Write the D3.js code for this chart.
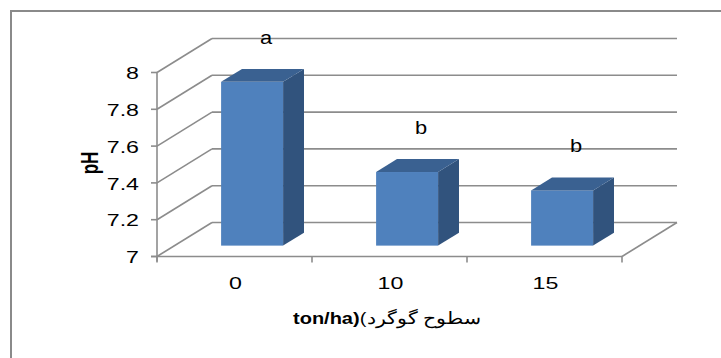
<!DOCTYPE html>
<html>
<head>
<meta charset="utf-8">
<script src="https://cdn.jsdelivr.net/npm/d3@7"></script>
<style>
  body { margin: 0; background: #fff; }
  text { font-family: "Liberation Sans", Arial, sans-serif; fill: #000; }
</style>
</head>
<body>
<div id="chart"></div>
<script>
// pH by sulfur level, 3D column chart

var categories = ["0", "10", "15"];
var phValues = [7.89, 7.4, 7.3];
var letters = ["a", "b", "b"];
var yTicks = [7, 7.2, 7.4, 7.6, 7.8, 8];

var W = 721, H = 358;
var depthX = 55, depthY = -34;   // floor depth of the 3D box
var f1 = 0.32, f2 = 0.70;        // front / back depth of the columns
var stretch = 1.45;              // text in the source is stretched horizontally

var svg = d3.select("#chart")
    .append("svg")
    .attr("width", W)
    .attr("height", H);

// outer frame (right and bottom edges run off the picture)
svg.append("rect")
    .attr("x", 11).attr("y", 11)
    .attr("width", W).attr("height", H)
    .style("fill", "none")
    .style("stroke", "#8a8a8a")
    .style("stroke-width", 2);

var x = d3.scaleBand()
    .domain(categories)
    .range([157, 622]);

var y = d3.scaleLinear()
    .domain([7, 8])
    .range([256.5, 72.5]);

var x0 = x.range()[0], x1 = x.range()[1];
var grid = svg.append("g")
    .style("stroke", "#8c8c8c")
    .style("stroke-width", 1.6)
    .style("fill", "none");

// back wall gridlines
grid.selectAll(".back")
    .data(yTicks)
    .join("line")
    .attr("x1", x0 + depthX).attr("x2", x1 + depthX)
    .attr("y1", d => y(d) + depthY).attr("y2", d => y(d) + depthY);

// side wall gridlines
grid.selectAll(".side")
    .data(yTicks)
    .join("line")
    .attr("x1", x0).attr("x2", x0 + depthX)
    .attr("y1", d => y(d)).attr("y2", d => y(d) + depthY);

// right edge of the floor
grid.append("line")
    .attr("x1", x1).attr("x2", x1 + depthX)
    .attr("y1", y(7)).attr("y2", y(7) + depthY);

// front axes
grid.append("line")
    .attr("x1", x0).attr("x2", x0)
    .attr("y1", y(8)).attr("y2", y(7) + 5);
grid.append("line")
    .attr("x1", x0 - 6).attr("x2", x1)
    .attr("y1", y(7)).attr("y2", y(7));
grid.selectAll(".ytick")
    .data(yTicks)
    .join("line")
    .attr("x1", x0 - 6).attr("x2", x0)
    .attr("y1", d => y(d)).attr("y2", d => y(d));
grid.selectAll(".xtick")
    .data(x.range().concat(categories.slice(1).map(c => x(c))))
    .join("line")
    .attr("x1", d => d).attr("x2", d => d)
    .attr("y1", y(7)).attr("y2", y(7) + 6);

// columns
var barW = x.bandwidth() * 0.4;
var ddx = (f2 - f1) * depthX, ddy = (f2 - f1) * depthY;
var bars = svg.selectAll(".bar")
    .data(categories.map((c, i) => ({ c: c, v: phValues[i] })))
    .join("g");

function geom(d) {
    var xl = x(d.c) + x.bandwidth() / 2 + f1 * depthX - barW / 2;
    var yt = y(d.v) + f1 * depthY;
    var yb = y(7) + f1 * depthY;
    return { xl: xl, xr: xl + barW, yt: yt, yb: yb };
}

bars.append("rect")
    .attr("x", d => geom(d).xl)
    .attr("y", d => geom(d).yt)
    .attr("width", barW)
    .attr("height", d => geom(d).yb - geom(d).yt)
    .style("fill", "#4f81bd");

bars.append("path")
    .attr("d", d => {
        var g = geom(d);
        return "M" + g.xr + "," + g.yt + "L" + (g.xr + ddx) + "," + (g.yt + ddy) +
            "L" + (g.xr + ddx) + "," + (g.yb + ddy) + "L" + g.xr + "," + g.yb + "Z";
    })
    .style("fill", "#31537d");

bars.append("path")
    .attr("d", d => {
        var g = geom(d);
        return "M" + g.xl + "," + g.yt + "L" + g.xr + "," + g.yt +
            "L" + (g.xr + ddx) + "," + (g.yt + ddy) + "L" + (g.xl + ddx) + "," + (g.yt + ddy) + "Z";
    })
    .style("fill", "#3a6191");

// significance letters
bars.append("text")
    .attr("transform", d => "translate(" + (x(d.c) + x.bandwidth() / 2 + f1 * depthX + 14) + "," + (geom(d).yt - 38) + ") scale(1.15,1)")
    .attr("text-anchor", "middle")
    .style("font-size", "19px")
    .text((d, i) => letters[i]);

// y tick labels
svg.selectAll(".ylab")
    .data(yTicks)
    .join("text")
    .attr("transform", d => "translate(139," + y(d) + ") scale(" + stretch + ",1)")
    .attr("text-anchor", "end")
    .attr("dy", "0.42em")
    .style("font-size", "16px")
    .text(d => d3.format("")(d));

// x tick labels
svg.selectAll(".xlab")
    .data(categories)
    .join("text")
    .attr("transform", d => "translate(" + (x(d) + x.bandwidth() / 2 + 1) + ",289) scale(" + stretch + ",1)")
    .attr("text-anchor", "middle")
    .style("font-size", "16px")
    .text(d => d);

// y axis title
svg.append("text")
    .attr("transform", "translate(98,163) scale(" + stretch + ",1) rotate(-90)")
    .attr("text-anchor", "middle")
    .style("font-size", "17px")
    .style("font-weight", "bold")
    .text("pH");

// x axis title: bold Latin part, a paren, then the Persian words
var title = svg.append("g").attr("transform", "translate(293,324)");
var t1 = title.append("text")
    .attr("transform", "scale(1.25,1)")
    .style("font-size", "16px")
    .style("font-weight", "bold")
    .text("ton/ha)");
var w1 = t1.node().getComputedTextLength() * 1.25;
var t2 = title.append("text")
    .attr("transform", "translate(" + w1 + ",0) scale(1.25,1)")
    .style("font-size", "16px")
    .text("(");
var w2 = t2.node().getComputedTextLength() * 1.25;
var t3 = title.append("text")
    .attr("direction", "rtl")
    .attr("text-anchor", "end")
    .style("font-size", "17px")
    .text("سطوح گوگرد");
var w3 = t3.node().getComputedTextLength();
t3.attr("transform", "translate(" + (w1 + w2 + 1) + ",0) scale(" + (114 / w3) + ",1)");
</script>
</body>
</html>
